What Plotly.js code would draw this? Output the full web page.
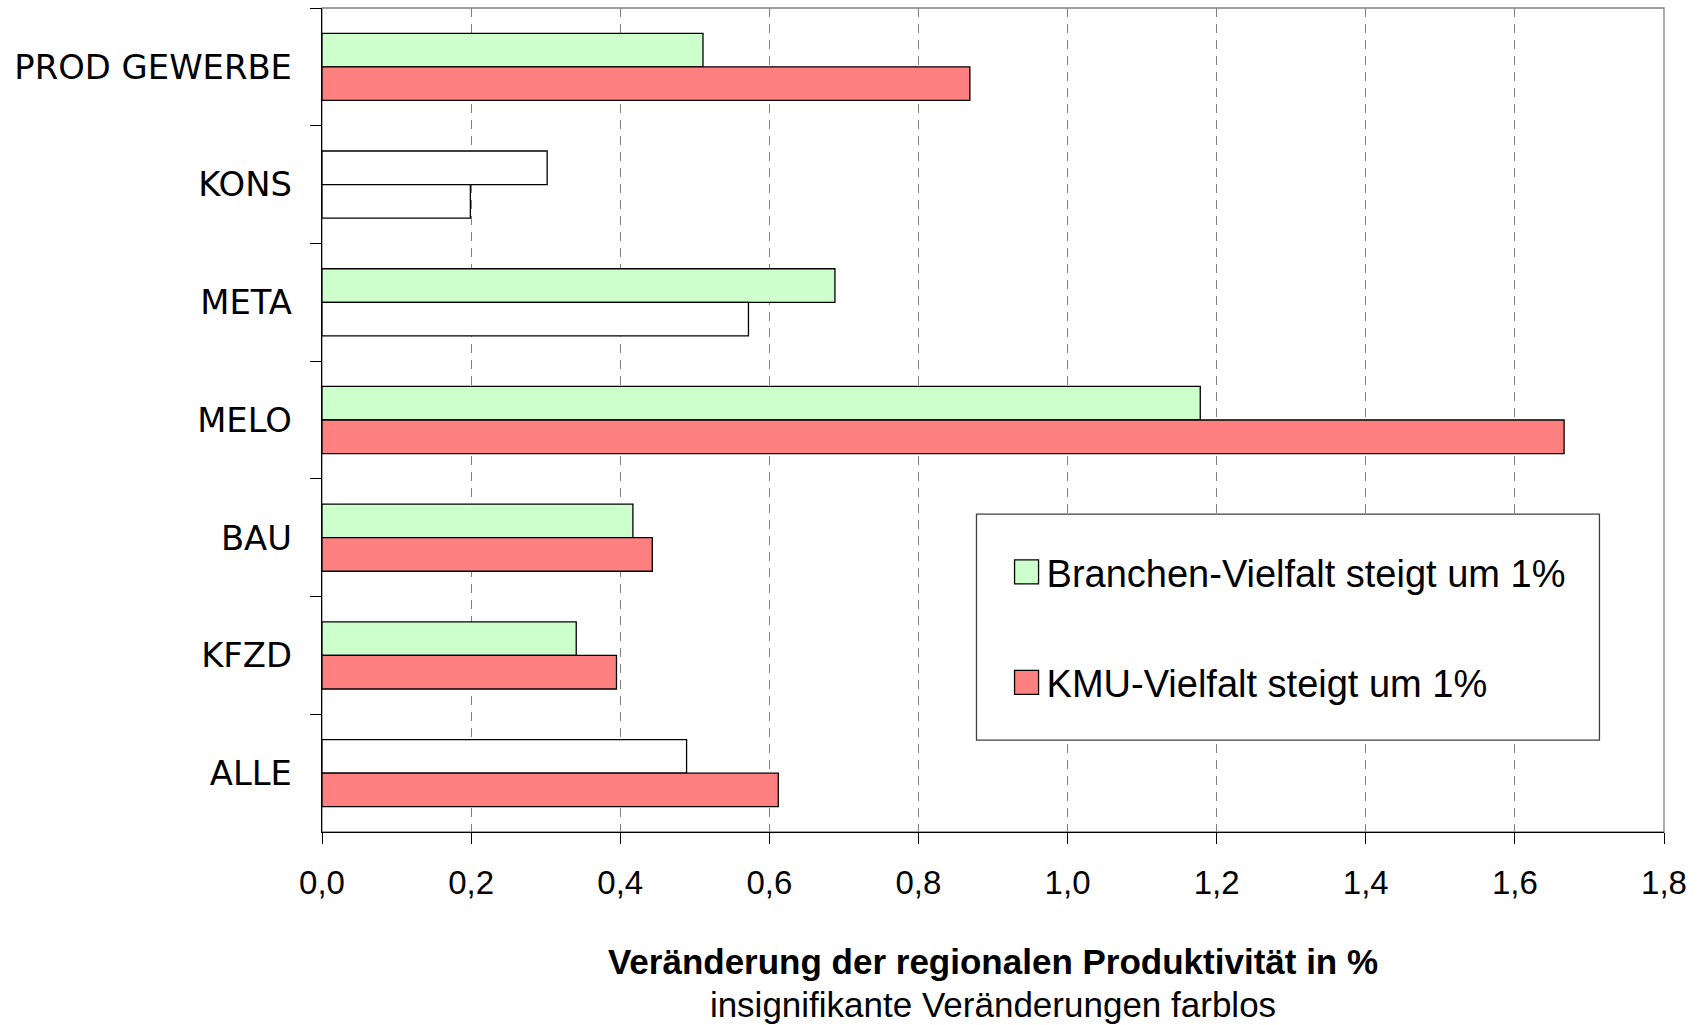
<!DOCTYPE html>
<html>
<head>
<meta charset="utf-8">
<script src="https://cdn.plot.ly/plotly-3.0.1.min.js"></script>
<style>html,body{margin:0;padding:0;background:#fff;}#chart{width:1697px;height:1025px;}</style>
</head>
<body>
<div id="chart"></div>
<script>
const categories = ['PROD GEWERBE', 'KONS', 'META', 'MELO', 'BAU', 'KFZD', 'ALLE'];
const seriesNames = ['Branchen-Vielfalt steigt um 1%', 'KMU-Vielfalt steigt um 1%'];
const branchenValues = [0.511, 0.302, 0.688, 1.178, 0.417, 0.341, 0.489];
const kmuValues = [0.869, 0.199, 0.572, 1.666, 0.443, 0.395, 0.612];
const branchenSignificant = [true, false, true, true, true, true, false];
const kmuSignificant = [true, false, false, true, true, true, true];
const xTicks = [0, 0.2, 0.4, 0.6, 0.8, 1.0, 1.2, 1.4, 1.6, 1.8];

const GREEN = '#CCFFCC', RED = '#FF8080', BLANK = '#FFFFFF';

function barTrace(name, values, sig, color) {
  return {
    type: 'bar', orientation: 'h', name: name,
    y: categories, x: values,
    legendgroup: name,
    marker: {
      color: sig.map(s => s ? color : BLANK),
      line: {color: '#000000', width: 1.3}
    },
    hoverinfo: 'x+y'
  };
}

const data = [
  barTrace(seriesNames[0], branchenValues, branchenSignificant, GREEN),
  barTrace(seriesNames[1], kmuValues, kmuSignificant, RED)
];

const layout = {
  width: 1697, height: 1025,
  margin: {l: 322, r: 33, t: 8, b: 193},
  paper_bgcolor: '#fff', plot_bgcolor: '#fff',
  separators: ',.',
  barmode: 'group', bargap: 0.43, bargroupgap: 0,
  font: {family: '"Liberation Sans", Arial, sans-serif', color: '#000'},
  showlegend: true,
  legend: {
    x: 0.5101, y: 0.3535, xanchor: 'left', yanchor: 'top',
    bgcolor: 'rgba(0,0,0,0)', borderwidth: 0,
    font: {size: 38, family: '"Liberation Sans", Arial, sans-serif', color: '#000'},
    traceorder: 'grouped', tracegroupgap: 58
  },
  xaxis: {
    range: [0, 1.8], tickvals: xTicks, tickformat: '.1f',
    showgrid: true, gridcolor: '#808080', gridwidth: 1, griddash: '9px,7px',
    zeroline: false,
    showline: true, linecolor: '#000', linewidth: 1.3,
    ticks: 'outside', ticklen: 11, tickcolor: '#000', tickwidth: 1,
    ticklabelstandoff: 10,
    tickfont: {size: 33, family: '"Liberation Sans", Arial, sans-serif'},
    title: {
      text: '<span style="font-size:35px"><b>Veränderung der regionalen Produktivität in %</b></span><br><span style="font-size:35px">insignifikante Veränderungen farblos</span>',
      font: {size: 33, family: '"Liberation Sans", Arial, sans-serif'},
      standoff: 51
    },
    fixedrange: true
  },
  yaxis: {
    type: 'category', autorange: 'reversed',
    showgrid: false, zeroline: false,
    showline: true, linecolor: '#000', linewidth: 1.3,
    ticks: 'outside', tickson: 'boundaries', ticklen: 11, tickcolor: '#000', tickwidth: 1,
    ticklabelstandoff: 22,
    tickfont: {size: 33.8, family: '"DejaVu Sans", Verdana, sans-serif'},
    fixedrange: true
  },
  shapes: [
    {type: 'rect', xref: 'paper', yref: 'paper', x0: 0, x1: 1, y0: 0, y1: 1,
     line: {color: '#808080', width: 1.3}, fillcolor: 'rgba(0,0,0,0)', layer: 'below'},
    {type: 'rect', xref: 'paper', yref: 'paper', x0: 0.4877, x1: 0.9519, y0: 0.1116, y1: 0.3857,
     line: {color: '#404040', width: 1.3}, fillcolor: '#FFFFFF', layer: 'above'}
  ]
};

function enlargeLegendSymbols(gd) {
  gd.querySelectorAll('.legend .legendpoints path.legendundefined, .legend .legendpoints path').forEach(p => {
    p.setAttribute('d', 'M12,12H-12V-12H12Z');
    p.style.strokeWidth = '1.3px';
    p.style.stroke = '#000';
  });
}

const gd = document.getElementById('chart');
Plotly.newPlot(gd, data, layout, {displayModeBar: false, staticPlot: true}).then(() => {
  enlargeLegendSymbols(gd);
  gd.on('plotly_afterplot', () => enlargeLegendSymbols(gd));
});
</script>
</body>
</html>
